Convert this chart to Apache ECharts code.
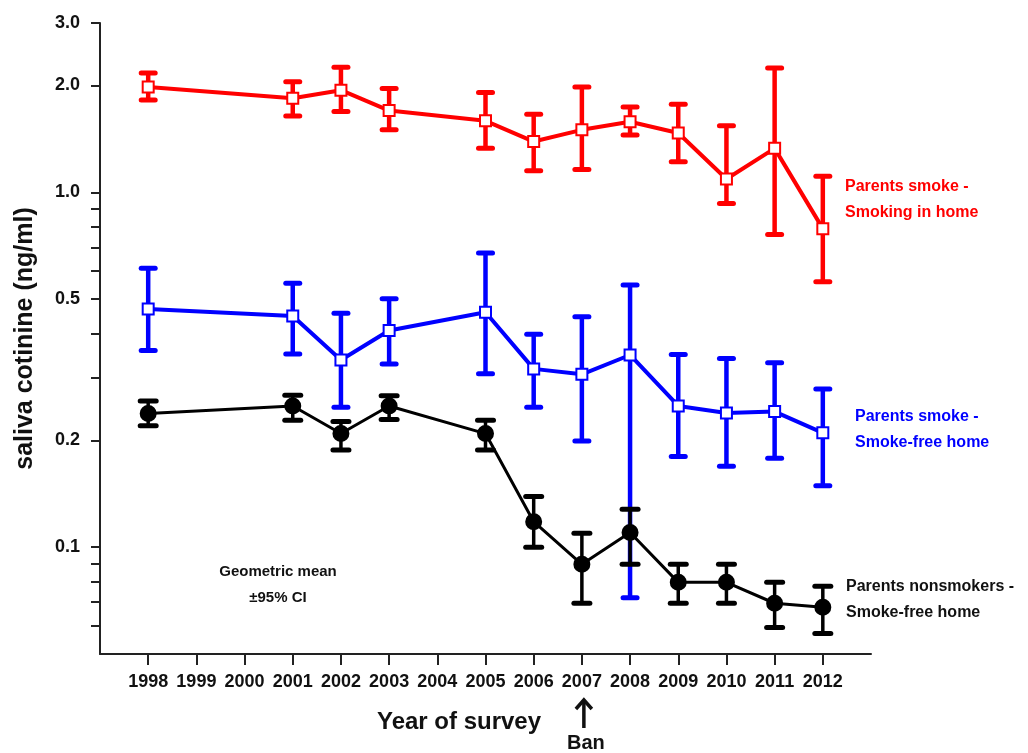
<!DOCTYPE html>
<html><head><meta charset="utf-8">
<script src="https://cdn.jsdelivr.net/npm/echarts@6/dist/echarts.min.js"></script>
<style>html,body{margin:0;padding:0;background:#fff}#c{width:1028px;height:753px}</style>
</head><body><div id="c"></div>
<script>
// ---- data ----
const years = [1998, 2001, 2002, 2003, 2005, 2006, 2007, 2008, 2009, 2010, 2011, 2012];
const xTickLabels = [1998, 1999, 2000, 2001, 2002, 2003, 2004, 2005, 2006, 2007, 2008, 2009, 2010, 2011, 2012];
const yLabelValues = [0.1, 0.2, 0.5, 1, 2, 3];
const yTickValues = [3, 2, 1, 0.9, 0.8, 0.7, 0.6, 0.5, 0.4, 0.3, 0.2, 0.1, 0.09, 0.08, 0.07, 0.06];

const smokeHomeMean = [1.98, 1.84, 1.94, 1.70, 1.59, 1.39, 1.50, 1.58, 1.47, 1.09, 1.33, 0.79];
const smokeHomeLow  = [1.82, 1.64, 1.69, 1.50, 1.33, 1.15, 1.16, 1.45, 1.22, 0.93, 0.76, 0.56];
const smokeHomeHigh = [2.17, 2.05, 2.25, 1.96, 1.91, 1.66, 1.98, 1.74, 1.77, 1.54, 2.24, 1.11];

const smokeFreeMean = [0.469, 0.448, 0.337, 0.408, 0.459, 0.318, 0.307, 0.348, 0.250, 0.239, 0.241, 0.210];
const smokeFreeLow  = [0.358, 0.350, 0.248, 0.328, 0.308, 0.248, 0.199, 0.072, 0.180, 0.169, 0.178, 0.149];
const smokeFreeHigh = [0.611, 0.554, 0.456, 0.501, 0.674, 0.398, 0.446, 0.548, 0.349, 0.340, 0.331, 0.279];

const nonSmokerMean = [0.238, 0.250, 0.209, 0.250, 0.209, 0.118, 0.0895, 0.110, 0.0796, 0.0796, 0.0695, 0.0677];
const nonSmokerLow  = [0.220, 0.228, 0.188, 0.229, 0.188, 0.100, 0.0695, 0.0895, 0.0695, 0.0695, 0.0594, 0.0571];
const nonSmokerHigh = [0.258, 0.268, 0.226, 0.267, 0.228, 0.139, 0.1095, 0.128, 0.0895, 0.0895, 0.0796, 0.0776];

// ---- styles ----
const FONT = '"Liberation Sans", Arial, Helvetica, sans-serif';
const RED = '#ff0000', BLUE = '#0000ff', BLACK = '#000000', AX = '#222222';

const chart = echarts.init(document.getElementById('c'), null, {renderer: 'canvas'});

function pts(mean) { return years.map((y, i) => [y, mean[i]]); }
function errPts(mean, lo, hi) { return years.map((y, i) => [y, mean[i], lo[i], hi[i]]); }

function errSeries(name, color, mean, lo, hi, capW, stemW, capH) {
  return {
    type: 'custom', name: name + ' CI', data: errPts(mean, lo, hi), z: 2,
    encode: {x: 0, y: [1, 2, 3]}, silent: true,
    renderItem(params, api) {
      const x = api.value(0);
      const pLo = api.coord([x, api.value(2)]);
      const pHi = api.coord([x, api.value(3)]);
      const h = capW / 2;
      return {type: 'group', children: [
        {type: 'line', shape: {x1: pLo[0], y1: pLo[1], x2: pHi[0], y2: pHi[1]}, style: {stroke: color, lineWidth: stemW}},
        {type: 'line', shape: {x1: pLo[0] - h, y1: pLo[1], x2: pLo[0] + h, y2: pLo[1]}, style: {stroke: color, lineWidth: capH, lineCap: 'round'}},
        {type: 'line', shape: {x1: pHi[0] - h, y1: pHi[1], x2: pHi[0] + h, y2: pHi[1]}, style: {stroke: color, lineWidth: capH, lineCap: 'round'}}
      ]};
    }
  };
}

function lineSeries(name, color, mean, symbol, size, fill, width) {
  return {
    type: 'line', name, data: pts(mean), z: 3, symbol, symbolSize: size, showAllSymbol: true,
    lineStyle: {color, width},
    itemStyle: {color: fill, borderColor: color, borderWidth: 2, opacity: 1},
    emphasis: {disabled: true}, animation: false
  };
}

const option = {
  animation: false,
  backgroundColor: '#fff',
  grid: {left: 100, right: 157, top: 23, bottom: 99},
  xAxis: {
    type: 'value', min: 1997, max: 2013, interval: 1,
    axisLine: {show: true, lineStyle: {color: AX, width: 2}},
    axisTick: {show: true, length: 11, lineStyle: {color: AX, width: 2}, customValues: xTickLabels},
    axisLabel: {customValues: xTickLabels, formatter: v => String(Math.round(v)), margin: 19,
      fontSize: 18, fontWeight: 'bold', color: '#111', fontFamily: FONT},
    splitLine: {show: false}
  },
  yAxis: {
    type: 'log', logBase: 10, min: 0.05, max: 3,
    axisLine: {show: true, lineStyle: {color: AX, width: 2}},
    axisTick: {show: true, length: 9, lineStyle: {color: AX, width: 2}, customValues: yTickValues},
    axisLabel: {customValues: yLabelValues, margin: 20, fontSize: 18, fontWeight: 'bold', color: '#111', fontFamily: FONT,
      formatter: v => { const n = Number(Number(v).toPrecision(3)); return n >= 1 ? n.toFixed(1) : String(n); }},
    minorTick: {show: false}, splitLine: {show: false},
    name: 'saliva cotinine (ng/ml)', nameLocation: 'middle', nameGap: 62,
    nameTextStyle: {fontSize: 25, fontWeight: 'bold', color: '#111', fontFamily: FONT}
  },
  series: [
    errSeries('Smoking in home', RED, smokeHomeMean, smokeHomeLow, smokeHomeHigh, 14, 4.5, 5),
    errSeries('Smoke-free home', BLUE, smokeFreeMean, smokeFreeLow, smokeFreeHigh, 14, 4.5, 5),
    errSeries('Nonsmokers', BLACK, nonSmokerMean, nonSmokerLow, nonSmokerHigh, 16, 3.5, 5),
    lineSeries('Parents smoke - Smoking in home', RED, smokeHomeMean, 'rect', 11, '#fff', 4),
    lineSeries('Parents smoke - Smoke-free home', BLUE, smokeFreeMean, 'rect', 11, '#fff', 4),
    lineSeries('Parents nonsmokers - Smoke-free home', BLACK, nonSmokerMean, 'circle', 15, BLACK, 3)
  ]
};
chart.setOption(option);

const banX = chart.convertToPixel({xAxisIndex: 0}, 2007);
function txt(x, y, text, color, size, align) {
  return {type: 'text', x, y, silent: true, style: {text, fill: color, font: 'bold ' + size + 'px ' + FONT,
    textAlign: align || 'left', textVerticalAlign: 'middle'}};
}
chart.setOption({graphic: [
  txt(845, 187, 'Parents smoke -', RED, 16),
  txt(845, 213, 'Smoking in home', RED, 16),
  txt(855, 417, 'Parents smoke -', BLUE, 16),
  txt(855, 443, 'Smoke-free home', BLUE, 16),
  txt(846, 587, 'Parents nonsmokers -', '#111', 16),
  txt(846, 613, 'Smoke-free home', '#111', 16),
  txt(278, 572, 'Geometric mean', '#111', 15, 'center'),
  txt(278, 598, '±95% CI', '#111', 15, 'center'),
  txt(459, 722, 'Year of survey', '#111', 24, 'center'),
  txt(banX + 4, 743, 'Ban', '#111', 20, 'center'),
  {type: 'line', silent: true, shape: {x1: banX + 2, y1: 701, x2: banX + 2, y2: 728}, style: {stroke: '#111', lineWidth: 3.5}},
  {type: 'polyline', silent: true, shape: {points: [[banX - 6, 709], [banX + 2, 700], [banX + 10, 709]]}, style: {stroke: '#111', lineWidth: 3.5, fill: null}}
]});
</script>
</body></html>
